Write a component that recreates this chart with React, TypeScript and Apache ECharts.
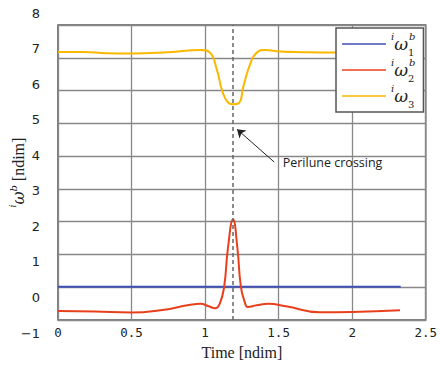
import React, { useEffect, useRef } from 'react';
import * as echarts from 'echarts';

// ---- data ----
const xTickStep = 0.5;
const yTickStep = 1;

const tOmega1 = [0, 2.33];
const omega1 = [0.02, 0.02];

const tOmega2 = [0, 0.25, 0.5, 0.71, 0.89, 0.97, 1.02, 1.07, 1.1, 1.13, 1.155, 1.19, 1.22, 1.243, 1.27, 1.29, 1.35, 1.43, 1.55, 1.78, 2.0, 2.325];
const omega2 = [-0.72, -0.74, -0.77, -0.69, -0.54, -0.5, -0.57, -0.64, -0.5, 0.03, 1.18, 2.07, 1.18, 0.03, -0.45, -0.6, -0.55, -0.5, -0.58, -0.76, -0.75, -0.7];

const tOmega3 = [0, 0.17, 0.33, 0.5, 0.75, 0.97, 1.03, 1.08, 1.12, 1.16, 1.19, 1.23, 1.26, 1.31, 1.35, 1.41, 1.51, 1.66, 1.87, 2.1, 2.33];
const omega3 = [7.18, 7.18, 7.14, 7.13, 7.17, 7.24, 7.17, 6.64, 5.94, 5.62, 5.58, 5.62, 6.12, 6.85, 7.15, 7.24, 7.19, 7.17, 7.16, 7.16, 7.16];

const periluneTime = 1.19;
const arrowTail = [1.47, 3.82];
const arrowHead = [1.217, 4.82];
const annotationText = 'Perilune crossing';

const seriesNames = ['w1', 'w2', 'w3'];
const seriesColors = ['#4050b4', '#e8401c', '#fbb800'];

const zip = (t: number[], v: number[]) => t.map((x, i) => [x, v[i]]);

const mathRich = {
  i: { fontFamily: 'DejaVu Serif', fontStyle: 'italic', fontSize: 10, lineHeight: 11, verticalAlign: 'top', color: '#222' },
  w: { fontFamily: 'DejaVu Serif', fontStyle: 'italic', fontSize: 17, lineHeight: 26, color: '#222' },
  s: { fontFamily: 'DejaVu Serif', fontSize: 10, lineHeight: 11, verticalAlign: 'bottom', width: 1, color: '#222' },
  s3: { fontFamily: 'DejaVu Serif', fontSize: 10, lineHeight: 11, verticalAlign: 'bottom', color: '#222' },
  b: { fontFamily: 'DejaVu Serif', fontStyle: 'italic', fontSize: 10, lineHeight: 11, verticalAlign: 'top', color: '#222' },
};

export default function App() {
  const ref = useRef<HTMLDivElement>(null);
  useEffect(() => {
    const chart = echarts.init(ref.current!, null, { renderer: 'svg' });
    const option: any = {
      animation: false,
      backgroundColor: '#fff',
      grid: [
        { left: 53, right: 11, top: 25, bottom: 43, show: true, borderColor: '#555', borderWidth: 1.5, backgroundColor: 'transparent' },
        { left: 53, right: 11, top: 13, bottom: 32, show: false },
      ],
      xAxis: [
        {
          gridIndex: 0, type: 'value', min: 0, max: 2.5, interval: xTickStep,
          axisLine: { show: false }, axisTick: { show: false },
          splitLine: { show: true, lineStyle: { color: '#888', width: 1.3 } },
          axisLabel: { fontFamily: 'DejaVu Sans Mono', fontSize: 12.5, color: '#222', margin: 6 },
          name: 'Time [ndim]', nameLocation: 'middle', nameGap: 21,
          nameTextStyle: { fontFamily: 'Liberation Serif', fontSize: 16, color: '#222' },
        },
        { gridIndex: 1, type: 'value', min: 0, max: 1, show: false },
      ],
      yAxis: [
        {
          gridIndex: 0, type: 'value', min: -1, max: 8, interval: yTickStep,
          axisLine: { show: false }, axisTick: { show: false }, axisLabel: { show: false },
          splitLine: { show: true, lineStyle: { color: '#888', width: 1.3 } },
          name: '{i|i}{w|ω}{b|b} [ndim]', nameLocation: 'middle', nameGap: 30, nameRotate: 90,
          nameTextStyle: {
            fontFamily: 'Liberation Serif', fontSize: 16, color: '#222',
            rich: {
              i: { fontFamily: 'DejaVu Serif', fontStyle: 'italic', fontSize: 9, verticalAlign: 'top', color: '#222' },
              w: { fontFamily: 'DejaVu Serif', fontStyle: 'italic', fontSize: 16, lineHeight: 20, color: '#222' },
              b: { fontFamily: 'DejaVu Serif', fontStyle: 'italic', fontSize: 10, verticalAlign: 'top', color: '#222' },
            },
          },
        },
        {
          gridIndex: 1, type: 'value', min: -1, max: 8, interval: yTickStep,
          axisLine: { show: false }, axisTick: { show: false }, splitLine: { show: false },
          axisLabel: {
            fontFamily: 'DejaVu Sans', fontSize: 13, color: '#222', margin: 13,
            formatter: (v: number) => (v < 0 ? '\u2212' + Math.abs(v) : String(v)),
          },
        },
      ],
      legend: {
        orient: 'vertical', left: 336, top: 28,
        data: seriesNames,
        icon: 'rect',
        padding: [3, 8, 3, 6], itemGap: 0, itemWidth: 44, itemHeight: 1.5,
        backgroundColor: '#fff', borderColor: '#555', borderWidth: 1.5, borderRadius: 0,
        formatter: (name: string) => {
          if (name === 'w1') return '{i|i}{w|ω}{s|1}{b|b}';
          if (name === 'w2') return '{i|i}{w|ω}{s|2}{b|b}';
          return '{i|i}{w|ω}{s3|3}';
        },
        textStyle: { rich: mathRich },
      },
      series: [
        {
          name: seriesNames[0], type: 'line', xAxisIndex: 0, yAxisIndex: 0,
          data: zip(tOmega1, omega1), symbol: 'none', showSymbol: false,
          lineStyle: { color: seriesColors[0], width: 2 }, itemStyle: { color: seriesColors[0] },
          markPoint: {
            silent: true, symbol: 'circle', symbolSize: 1,
            itemStyle: { color: 'rgba(0,0,0,0)' },
            label: {
              show: true, position: 'right', distance: 8, formatter: annotationText,
              fontFamily: 'Open Sans', fontSize: 12.5, color: '#222',
            },
            data: [{ coord: arrowTail }],
          },
        },
        {
          name: seriesNames[1], type: 'line', xAxisIndex: 0, yAxisIndex: 0,
          data: zip(tOmega2, omega2), symbol: 'none', showSymbol: false, smooth: 0.5,
          lineStyle: { color: seriesColors[1], width: 2 }, itemStyle: { color: seriesColors[1] },
          markLine: {
            silent: true, symbol: ['none', 'arrow'], symbolSize: 8,
            label: { show: false },
            lineStyle: { color: '#222', type: 'solid', width: 1 },
            data: [[{ coord: arrowTail }, { coord: arrowHead }]],
          },
        },
        {
          name: seriesNames[2], type: 'line', xAxisIndex: 0, yAxisIndex: 0,
          data: zip(tOmega3, omega3), symbol: 'none', showSymbol: false, smooth: 0.5,
          lineStyle: { color: seriesColors[2], width: 2 }, itemStyle: { color: seriesColors[2] },
          markLine: {
            silent: true, symbol: ['none', 'none'],
            label: { show: false },
            lineStyle: { color: '#666', type: [4, 3], width: 1.5 },
            data: [{ xAxis: periluneTime }],
          },
        },
      ],
    };
    chart.setOption(option);
    return () => chart.dispose();
  }, []);
  return <div ref={ref} style={{ position: 'fixed', left: 0, top: 0, width: 440, height: 365 }} />;
}
